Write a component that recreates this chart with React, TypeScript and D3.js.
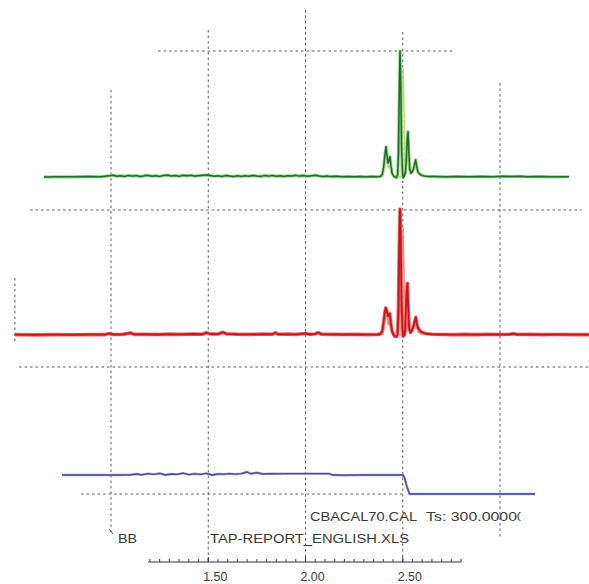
import React from "react";
import * as d3 from "d3";

// ---- data (time in minutes, signal in % of panel full scale) ----
const greenTrace: [number, number][] = [
  [0.655, 0], [0.72, 0.2], [0.8, 0.1], [0.88, 0.3], [0.95, 0.2], [0.99, 0.9], [1.01, 1.4], [1.03, 0.6],
  [1.05, 1.0], [1.07, 0.5], [1.09, 1.2], [1.11, 0.7], [1.13, 1.1], [1.15, 0.4], [1.17, 0.9], [1.19, 1.3],
  [1.21, 0.6], [1.23, 1.0], [1.25, 0.5], [1.27, 1.2], [1.29, 1.5], [1.31, 0.8], [1.33, 1.1], [1.35, 0.6],
  [1.37, 1.3], [1.39, 0.9], [1.41, 1.4], [1.43, 0.7], [1.45, 1.0], [1.47, 1.3], [1.49, 1.6], [1.51, 1.1],
  [1.53, 0.6], [1.55, 1.0], [1.57, 0.5], [1.59, 1.1], [1.61, 0.7], [1.63, 0.4], [1.65, 0.9], [1.67, 0.5],
  [1.69, 1.0], [1.71, 0.6], [1.73, 1.2], [1.75, 0.8], [1.77, 0.5], [1.79, 1.1], [1.81, 0.7], [1.83, 1.2],
  [1.85, 0.6], [1.87, 0.9], [1.89, 0.5], [1.91, 1.0], [1.93, 0.8], [1.95, 1.3], [1.97, 0.7], [1.99, 1.1],
  [2.01, 0.6], [2.03, 0.9], [2.05, 1.4], [2.07, 0.8], [2.09, 0.4], [2.11, 0.7], [2.13, 0.3], [2.16, 0.5],
  [2.19, 0.2], [2.22, 0.4], [2.25, 0.2], [2.28, 0.3], [2.31, 0.1], [2.34, 0.3], [2.37, 0.2],
  [2.385, 0.5], [2.395, 2], [2.402, 8], [2.408, 17], [2.414, 24], [2.419, 17], [2.424, 11], [2.429, 13],
  [2.434, 16], [2.439, 9], [2.445, 3], [2.452, 1], [2.46, 0], [2.468, -0.5], [2.474, 2], [2.478, 20],
  [2.482, 65], [2.486, 100], [2.49, 72], [2.494, 25], [2.498, 5], [2.502, -0.5], [2.508, 1], [2.514, 4],
  [2.519, 16], [2.523, 30], [2.527, 36], [2.531, 20], [2.536, 6], [2.542, 3], [2.548, 4], [2.555, 6],
  [2.561, 10], [2.566, 13.5], [2.571, 9], [2.578, 4], [2.586, 2.5], [2.595, 1.5], [2.61, 0.8], [2.63, 0.4],
  [2.66, 0.3], [2.72, 0.1], [2.78, 0.3], [2.84, 0.2], [2.9, 0.4], [2.96, 0.2], [3.02, 0.5], [3.06, 0.3],
  [3.1, 0.6], [3.14, 0.2], [3.2, 0.3], [3.26, 0.1], [3.355, 0.2],
];

const greenOverlay: [number, number][] = [
  [2.398, 0], [2.41, 12], [2.417, 20], [2.425, 7], [2.433, 12], [2.441, 4], [2.47, 0], [2.492, 0],
  [2.497, 45], [2.502, 88], [2.507, 50], [2.512, 4], [2.52, 12], [2.526, 32], [2.533, 8], [2.56, 6],
  [2.567, 12], [2.58, 2], [2.6, 0],
];

const redTrace: [number, number][] = [
  [0.505, 0.3], [0.6, 0.1], [0.7, 0.3], [0.8, 0.2], [0.9, 0.4], [0.97, 0.3], [0.99, 1.2], [1.01, 0.4],
  [1.06, 0.5], [1.1, 1.6], [1.12, 0.5], [1.18, 0.6], [1.24, 0.4], [1.3, 0.7], [1.36, 0.5], [1.42, 0.8],
  [1.47, 0.6], [1.49, 1.8], [1.51, 0.8], [1.55, 0.7], [1.575, 2.2], [1.595, 0.9], [1.65, 0.6], [1.72, 0.5],
  [1.78, 0.7], [1.83, 0.6], [1.845, 1.8], [1.86, 0.6], [1.9, 0.7], [1.95, 0.5], [2.0, 1.2], [2.02, 0.6],
  [2.05, 0.8], [2.065, 2.0], [2.08, 0.7], [2.14, 0.5], [2.2, 0.4], [2.26, 0.5], [2.32, 0.3], [2.37, 0.4],
  [2.385, 0.8], [2.395, 3], [2.402, 10], [2.408, 18], [2.413, 21.5], [2.418, 19], [2.423, 15], [2.428, 16],
  [2.433, 17], [2.438, 10], [2.445, 3], [2.452, 0.5], [2.46, -1], [2.468, -1.2], [2.474, 1], [2.478, 22],
  [2.482, 70], [2.486, 100], [2.49, 75], [2.494, 28], [2.498, 4], [2.502, -1], [2.508, 0], [2.512, 3],
  [2.516, 20], [2.52, 33], [2.524, 41], [2.528, 22], [2.533, 5], [2.54, 2], [2.548, 4], [2.556, 7],
  [2.562, 11], [2.567, 14], [2.572, 9], [2.58, 5], [2.59, 3], [2.6, 2], [2.62, 1], [2.65, 0.6],
  [2.7, 0.4], [2.76, 0.3], [2.82, 0.5], [2.88, 0.3], [2.94, 0.5], [3.0, 0.4], [3.05, 0.6], [3.07, 1.0],
  [3.09, 0.4], [3.15, 0.5], [3.22, 0.3], [3.3, 0.4], [3.38, 0.3], [3.457, 0.3],
];

const redOverlay: [number, number][] = [
  [2.398, 0], [2.41, 14], [2.417, 19], [2.425, 8], [2.433, 14], [2.441, 4], [2.47, 0], [2.492, 0],
  [2.497, 40], [2.502, 85], [2.507, 45], [2.512, 4], [2.52, 14], [2.526, 30], [2.533, 6], [2.56, 6],
  [2.567, 11], [2.58, 2], [2.6, 0],
];

const blueTrace: [number, number][] = [
  [0.748, 0.95], [0.85, 0.95], [0.95, 0.95], [1.05, 0.95], [1.1, 0.96], [1.13, 1.0], [1.16, 0.96],
  [1.19, 1.02], [1.22, 0.98], [1.25, 1.03], [1.28, 0.95], [1.31, 1.0], [1.34, 0.98], [1.37, 1.04],
  [1.4, 0.97], [1.43, 1.01], [1.46, 0.98], [1.49, 1.03], [1.52, 0.95], [1.55, 1.0], [1.58, 0.99],
  [1.61, 1.02], [1.64, 0.99], [1.67, 1.02], [1.7, 1.1], [1.72, 1.01], [1.75, 1.07], [1.78, 1.0],
  [1.82, 1.02], [1.86, 1.01], [1.9, 1.02], [1.95, 1.02], [2.0, 1.02], [2.05, 1.02], [2.1, 1.02],
  [2.125, 1.01], [2.14, 0.95], [2.2, 0.94], [2.3, 0.95], [2.4, 0.95], [2.5, 0.95], [2.508, 0.85],
  [2.52, 0.4], [2.535, 0], [2.6, 0], [2.8, 0], [3.0, 0], [3.18, 0],
];

const gridTimes = [1.0, 1.5, 2.0, 2.5, 3.0];
const majorTicks = [1.5, 2.0, 2.5];
const tickLabels = ["1.50", "2.00", "2.50"];
const axisRange = [1.19, 2.8];

const sampleLabel = "BB";
const fileLabel = "TAP-REPORT_ENGLISH.XLS";
const calLabel = "CBACAL70.CAL";
const tsLabel = "Ts: 300.0000";

export default function App() {
  const W = 589;
  const H = 584;
  const x = d3.scaleLinear().domain([1, 3]).range([111, 500]);
  const yGreen = d3.scaleLinear().domain([0, 100]).range([177, 51]);
  const yRed = d3.scaleLinear().domain([0, 100]).range([335, 209]);
  const yBlue = d3.scaleLinear().domain([0, 1]).range([494, 474]);

  const lineG = d3.line<[number, number]>().x((d) => x(d[0])).y((d) => yGreen(d[1]));
  const lineR = d3.line<[number, number]>().x((d) => x(d[0])).y((d) => yRed(d[1]));
  const lineB = d3.line<[number, number]>().x((d) => x(d[0])).y((d) => yBlue(d[1]));

  const gridTop = [90, 30, 10, 32, 83];
  const gridBottom = [532, 560, 560, 560, 537];
  const dash = "2.5 3";
  const gridColor = "#5a5a5a";

  const hLines = [
    { y: yGreen(100), t0: 1.242, t1: 2.769 },
    { y: 210, t0: 0.584, t1: 3.42 },
    { y: 367, t0: 0.527, t1: 3.46 },
    { y: yBlue(0), t0: 0.846, t1: 2.51 },
  ];

  const axisY = 562;
  const minor = d3.range(1.2, 2.8001, 0.05);
  const font = "'Liberation Sans', Arial, sans-serif";

  return (
    <svg
      width={W}
      height={H}
      style={{ position: "absolute", left: 0, top: 0, background: "#fff" }}
    >
      <defs>
        <clipPath id="tsclip">
          <rect x={0} y={0} width={520.5} height={H} />
        </clipPath>
      </defs>
      {/* vertical grid */}
      {gridTimes.map((t, i) => (
        <line
          key={"v" + i}
          x1={x(t)}
          x2={x(t)}
          y1={gridTop[i]}
          y2={gridBottom[i]}
          stroke={gridColor}
          strokeWidth={1}
          strokeDasharray={dash}
        />
      ))}
      <line x1={x(1) - 2} y1={529} x2={x(1) + 2} y2={534} stroke={gridColor} strokeWidth={1} />
      {/* red panel left axis */}
      <line
        x1={x(0.506)}
        x2={x(0.506)}
        y1={278}
        y2={343}
        stroke={gridColor}
        strokeWidth={1}
        strokeDasharray={dash}
      />
      {/* horizontal grid */}
      {hLines.map((h, i) => (
        <line
          key={"h" + i}
          x1={x(h.t0)}
          x2={x(h.t1)}
          y1={h.y}
          y2={h.y}
          stroke={gridColor}
          strokeWidth={1}
          strokeDasharray={dash}
        />
      ))}

      {/* green trace */}
      <path d={lineG(greenTrace) || ""} fill="none" stroke="#8fd08f" strokeWidth={3.2} strokeLinejoin="round" />
      <path d={lineG(greenOverlay) || ""} fill="none" stroke="#b8dc7a" strokeWidth={1.4} strokeLinejoin="round" />
      <path d={lineG(greenTrace) || ""} fill="none" stroke="#1f6b2a" strokeWidth={1.5} strokeLinejoin="round" />

      {/* red trace */}
      <path d={lineR(redTrace) || ""} fill="none" stroke="#f06060" strokeWidth={3.6} strokeLinejoin="round" />
      <path d={lineR(redOverlay) || ""} fill="none" stroke="#f28a7a" strokeWidth={1.4} strokeLinejoin="round" />
      <path d={lineR(redTrace) || ""} fill="none" stroke="#c4161c" strokeWidth={1.8} strokeLinejoin="round" />

      {/* blue trace */}
      <path d={lineB(blueTrace) || ""} fill="none" stroke="#a4a4d6" strokeWidth={2.4} strokeLinejoin="round" />
      <path d={lineB(blueTrace) || ""} fill="none" stroke="#4a4a98" strokeWidth={1.3} strokeLinejoin="round" />

      {/* labels */}
      <g fill="#3a3a3a" fontFamily={font} fontSize={13}>
        <text x={310} y={521} textLength={107} lengthAdjust="spacingAndGlyphs">
          {calLabel}
        </text>
        <text x={426} y={521} textLength={91} lengthAdjust="spacingAndGlyphs">
          {tsLabel}
        </text>
        <text x={517} y={521} clipPath="url(#tsclip)">
          0
        </text>
        <text x={118} y={543} textLength={19} lengthAdjust="spacingAndGlyphs">
          {sampleLabel}
        </text>
        <text x={210} y={543} textLength={199} lengthAdjust="spacingAndGlyphs">
          {fileLabel}
        </text>
      </g>

      {/* time axis */}
      <line x1={x(axisRange[0])} x2={x(axisRange[1])} y1={axisY} y2={axisY} stroke="#333" strokeWidth={1} />
      {minor.map((t, i) => (
        <line key={"m" + i} x1={x(t)} x2={x(t)} y1={axisY} y2={axisY - 3} stroke="#444" strokeWidth={1} />
      ))}
      {majorTicks.map((t, i) => (
        <g key={"M" + i}>
          <line x1={x(t)} x2={x(t)} y1={axisY} y2={axisY - 5} stroke="#333" strokeWidth={1} />
          <text
            x={x(t) + 7}
            y={581}
            textAnchor="middle"
            fontFamily={font}
            fontSize={12.5}
            fill="#3a3a3a"
            textLength={24}
            lengthAdjust="spacingAndGlyphs"
          >
            {tickLabels[i]}
          </text>
        </g>
      ))}
    </svg>
  );
}
